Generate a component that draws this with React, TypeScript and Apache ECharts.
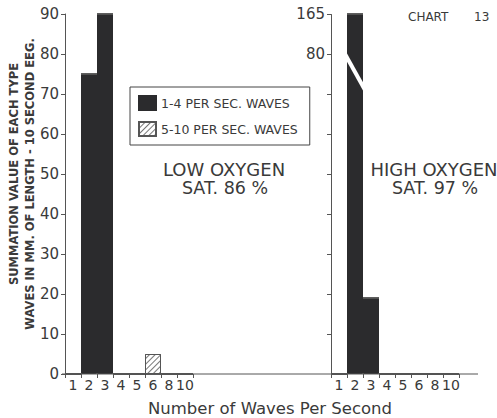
import React, { useEffect, useRef } from 'react';
import * as echarts from 'echarts';

// ---- data ----
const waveRates = ['1', '2', '3', '4', '5', '6', '8', '10'];
const lowOxySlow = [0, 75, 90, 0, 0, 0, 0, 0];
const lowOxyFast = [0, 0, 0, 0, 0, 5, 0, 0];
const highOxySlow = [0, 165, 19, 0, 0, 0, 0, 0];
const highOxyFast = [0, 0, 0, 0, 0, 0, 0, 0];
const rightTickValues = [10, 20, 30, 40, 50, 60, 70, 80, 165];
const rightLabelValues = [80, 165];
const slowName = '1-4 PER SEC. WAVES';
const fastName = '5-10 PER SEC. WAVES';
const lowTitle = ['LOW OXYGEN', 'SAT. 86 %'];
const highTitle = ['HIGH OXYGEN', 'SAT. 97 %'];
const yTitle = ['SUMMATION VALUE OF EACH TYPE', 'WAVES IN MM. OF LENGTH - 10 SECOND EEG.'];
const xTitle = 'Number of Waves Per Second';

const FONT = '"DejaVu Sans", sans-serif';
const INK = '#3a3a3a';
const BAR = '#2b2b2d';
const AXIS = '#555';

const W = 497;
const H = 418;
const GRID_TOP = 14;
const GRID_H = 360;
const LEFT_X = 65;
const RIGHT_X = 331;
const GRID_W = 128;

export default function App() {
  const ref = useRef<HTMLDivElement>(null);
  useEffect(() => {
    document.body.style.margin = '0';
    const chart = echarts.init(ref.current!, null, { renderer: 'svg' });
    const xAxisBase = {
      type: 'category',
      data: waveRates,
      boundaryGap: true,
      axisLine: { show: false },
      axisTick: { show: true, length: 4, lineStyle: { color: AXIS } },
      axisLabel: { interval: 0, fontFamily: FONT, fontSize: 14, color: INK, margin: 4 },
      splitLine: { show: false },
    };
    const decal = {
      symbol: 'rect',
      symbolSize: 1,
      color: '#777',
      backgroundColor: '#fff',
      dashArrayX: [1, 0],
      dashArrayY: [1, 3],
      rotation: -Math.PI / 4,
    };
    const fastStyle = { color: '#fff', borderColor: '#555', borderWidth: 1, decal };
    const slowStyle = { color: BAR, borderColor: BAR, borderWidth: 1 };
    chart.setOption({
      animation: false,
      backgroundColor: '#fff',
      legend: {
        orient: 'vertical',
        left: 130,
        top: 87,
        padding: [8, 12, 8, 8],
        borderColor: '#444',
        borderWidth: 1,
        itemWidth: 17,
        itemHeight: 14,
        itemGap: 10,
        icon: 'rect',
        selectedMode: false,
        textStyle: { fontFamily: FONT, fontSize: 12.5, color: INK },
        data: [slowName, fastName],
      },
      grid: [
        { left: LEFT_X, top: GRID_TOP, width: GRID_W, height: GRID_H },
        { left: RIGHT_X, top: GRID_TOP, width: GRID_W, height: GRID_H },
      ],
      xAxis: [
        { ...xAxisBase, gridIndex: 0 },
        { ...xAxisBase, gridIndex: 1 },
      ],
      yAxis: [
        {
          type: 'value',
          gridIndex: 0,
          min: 0,
          max: 90,
          interval: 10,
          axisLine: { show: true, lineStyle: { color: AXIS } },
          axisTick: { show: true, length: 4, lineStyle: { color: AXIS } },
          axisLabel: { fontFamily: FONT, fontSize: 15, color: INK, margin: 6 },
          splitLine: { show: false },
        },
        {
          type: 'value',
          gridIndex: 1,
          min: 0,
          max: 165,
          breaks: [{ start: 85, end: 160, gap: 0 }],
          breakArea: { show: false },
          axisLine: { show: true, lineStyle: { color: AXIS } },
          axisTick: { show: true, length: 4, customValues: rightTickValues, lineStyle: { color: AXIS } },
          axisLabel: { fontFamily: FONT, fontSize: 15, color: INK, margin: 6, customValues: rightLabelValues },
          splitLine: { show: false },
        },
      ],
      series: [
        { name: slowName, type: 'bar', xAxisIndex: 0, yAxisIndex: 0, stack: 'low', data: lowOxySlow, barCategoryGap: 0, itemStyle: slowStyle },
        { name: fastName, type: 'bar', xAxisIndex: 0, yAxisIndex: 0, stack: 'low', data: lowOxyFast, barCategoryGap: 0, itemStyle: fastStyle },
        { name: slowName, type: 'bar', xAxisIndex: 1, yAxisIndex: 1, stack: 'high', data: highOxySlow, barCategoryGap: 0, itemStyle: slowStyle },
        { name: fastName, type: 'bar', xAxisIndex: 1, yAxisIndex: 1, stack: 'high', data: highOxyFast, barCategoryGap: 0, itemStyle: fastStyle },
      ],
    });

    // break marker through the tall high-oxygen bar
    const p1 = chart.convertToPixel({ xAxisIndex: 1, yAxisIndex: 1 }, [1, 80]) as number[];
    const p2 = chart.convertToPixel({ xAxisIndex: 1, yAxisIndex: 1 }, [1, 71]) as number[];
    const p0 = chart.convertToPixel({ xAxisIndex: 1, yAxisIndex: 1 }, [0, 0]) as number[];
    const band = p1[0] - p0[0];
    const baseY = p0[1];

    const textStyle = (text: string, size: number, extra: any = {}) => ({
      text,
      fontFamily: FONT,
      fontSize: size,
      fill: INK,
      align: 'center',
      verticalAlign: 'middle',
      ...extra,
    });

    chart.setOption({
      graphic: [
        { id: 'base', type: 'line', shape: { x1: 62, y1: baseY, x2: 478, y2: baseY }, style: { stroke: AXIS, lineWidth: 1 }, z: 10 },
        {
          id: 'slash',
          type: 'line',
          shape: { x1: p1[0] - band / 2 - 2, y1: p1[1], x2: p2[0] + band / 2 + 2, y2: p2[1] },
          style: { stroke: '#fff', lineWidth: 4 },
          z: 20,
        },
        { id: 'yt1', type: 'text', x: 14, y: 174, rotation: Math.PI / 2, style: textStyle(yTitle[0], 11.5, { fontWeight: 'bold' }) },
        { id: 'yt2', type: 'text', x: 30, y: 184, rotation: Math.PI / 2, style: textStyle(yTitle[1], 11.5, { fontWeight: 'bold' }) },
        { id: 'xt', type: 'text', x: 270, y: 408, style: textStyle(xTitle, 16.5) },
        { id: 'lo1', type: 'text', x: 224, y: 169, style: textStyle(lowTitle[0], 18) },
        { id: 'lo2', type: 'text', x: 225, y: 188, style: textStyle(lowTitle[1], 17.5) },
        { id: 'hi1', type: 'text', x: 434, y: 169, style: textStyle(highTitle[0], 18) },
        { id: 'hi2', type: 'text', x: 435, y: 188, style: textStyle(highTitle[1], 17.5) },
        { id: 'ch1', type: 'text', x: 408, y: 17, style: textStyle('CHART', 12, { align: 'left' }) },
        { id: 'ch2', type: 'text', x: 474, y: 17, style: textStyle('13', 12, { align: 'left' }) },
      ],
    });
    return () => chart.dispose();
  }, []);
  return <div ref={ref} style={{ position: 'fixed', left: 0, top: 0, width: W, height: H, background: '#fff' }} />;
}
